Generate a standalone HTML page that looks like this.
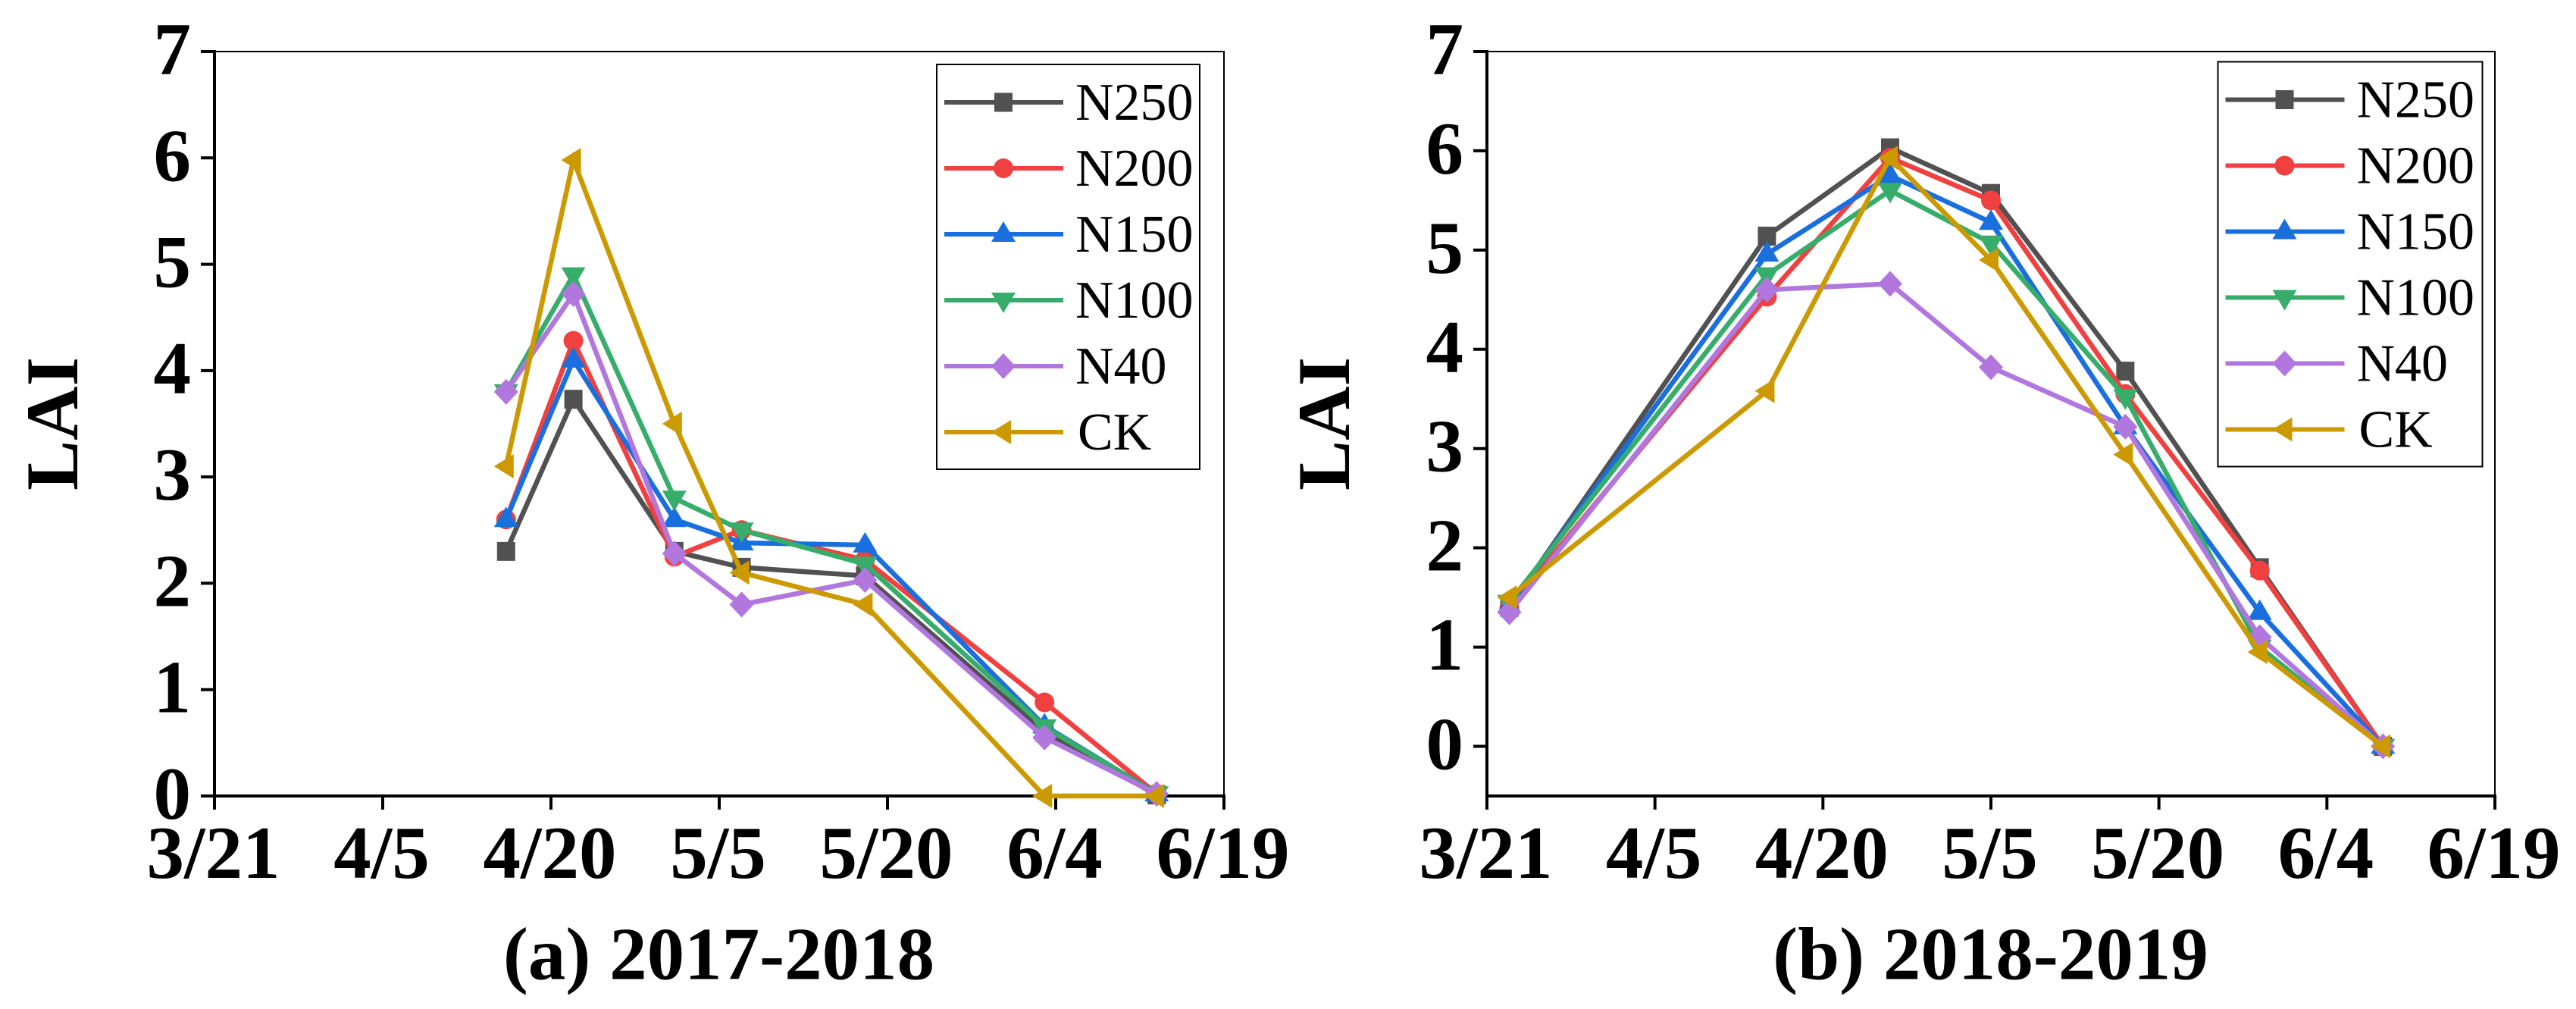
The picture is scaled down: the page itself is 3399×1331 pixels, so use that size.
<!DOCTYPE html>
<html lang="en">
<head>
<meta charset="utf-8">
<title>LAI charts</title>
<style>
html,body{margin:0;padding:0;background:#fff;}
svg{display:block;}
text{font-family:"Liberation Serif","Times New Roman",serif;fill:#000;}
.bold{font-weight:bold;font-size:99px;}
.leg{font-size:70px;}
</style>
</head>
<body>
<svg id="chart" xmlns="http://www.w3.org/2000/svg" width="3399" height="1331" viewBox="0 0 3399 1331">
  <rect x="0" y="0" width="3399" height="1331" fill="#fff"/>
  <g id="panelA"></g>
  <g id="panelB"></g>
  <text class="bold" text-anchor="middle" transform="translate(102,559) rotate(-90)">LAI</text>
  <text class="bold" text-anchor="middle" transform="translate(1780,559) rotate(-90)">LAI</text>
  <text class="bold" x="948.5" y="1291.5" text-anchor="middle">(a) 2017-2018</text>
  <text class="bold" x="2626.5" y="1291.5" text-anchor="middle">(b) 2018-2019</text>
</svg>
<script>
// Shared axis data
const xTickLabels = ['3/21','4/5','4/20','5/5','5/20','6/4','6/19'];
const xTickDays = [0,15,30,45,60,75,90];
const yTicksA = [0,1,2,3,4,5,6,7];
const yTicksB = [0,1,2,3,4,5,6,7];
const seriesNames = ['N250','N200','N150','N100','N40','CK'];

// Panel (a) 2017-2018: days since 3/21 and LAI values
const daysA = [26,32,41,47,58,74,84];
const n250A = [2.30,3.73,2.30,2.15,2.07,0.60,0.01];
const n200A = [2.60,4.28,2.25,2.50,2.22,0.88,0.02];
const n150A = [2.60,4.10,2.60,2.38,2.36,0.66,0.02];
const n100A = [3.80,4.90,2.80,2.50,2.18,0.65,0.02];
const n40A  = [3.80,4.72,2.28,1.80,2.03,0.55,0.02];
const ckA   = [3.10,5.98,3.50,2.10,1.80,0.00,0.00];

// Panel (b) 2018-2019: days since 3/21 and LAI values
const daysB = [2,25,36,45,57,69,80];
const n250B = [1.40,5.14,6.03,5.57,3.78,1.80,0.00];
const n200B = [1.40,4.53,5.93,5.50,3.55,1.77,0.00];
const n150B = [1.42,4.96,5.75,5.28,3.22,1.35,0.00];
const n100B = [1.45,4.75,5.60,5.07,3.52,1.00,0.00];
const n40B  = [1.35,4.60,4.66,3.82,3.22,1.10,0.00];
const ckB   = [1.50,3.58,5.93,4.90,2.94,0.95,0.00];

const seriesColors = ['#515151','#F14040','#1A6FDF','#37AD6B','#B177DE','#CC9900'];
const seriesShapes = ['square','circle','up','down','diamond','left'];
const NS = 'http://www.w3.org/2000/svg';

function make(tag, attrs, parent){
  const el = document.createElementNS(NS, tag);
  for (const k in attrs) el.setAttribute(k, attrs[k]);
  parent.appendChild(el);
  return el;
}

function drawMarker(parent, shape, cx, cy, color, label){
  let el;
  if (shape === 'square') {
    el = make('rect', {x:cx-12, y:cy-12.5, width:24, height:25, fill:color}, parent);
  } else if (shape === 'circle') {
    el = make('circle', {cx:cx, cy:cy, r:13, fill:color}, parent);
  } else {
    let pts;
    if (shape === 'up') pts = [[cx,cy-17],[cx+16,cy+10],[cx-16,cy+10]];
    if (shape === 'down') pts = [[cx,cy+17],[cx+16,cy-10],[cx-16,cy-10]];
    if (shape === 'diamond') pts = [[cx,cy-17],[cx+16,cy],[cx,cy+17],[cx-16,cy]];
    if (shape === 'left') pts = [[cx-16,cy],[cx+10,cy-16],[cx+10,cy+16]];
    el = make('polygon', {points:pts.map(p=>p.join(',')).join(' '), fill:color}, parent);
  }
  
  
  return el;
}

function drawPanel(group, box, yMin, yMax, yTicks, days, seriesList, legend){
  const xScale = d => box.left + (d - xTickDays[0]) / (xTickDays[xTickDays.length-1] - xTickDays[0]) * (box.right - box.left);
  const yScale = v => box.bottom - (v - yMin) / (yMax - yMin) * (box.bottom - box.top);

  // thin top / right frame
  const frame = make('path', {d:`M${box.left} ${box.top}H${box.right}V${box.bottom}`, fill:'none', stroke:'#000', 'stroke-width':2}, group);
  
  

  // axes
  const xAxis = make('line', {x1:box.left-2, x2:box.right+2, y1:box.bottom, y2:box.bottom, stroke:'#000', 'stroke-width':4}, group);
  
  
  const yAxis = make('line', {x1:box.left, x2:box.left, y1:box.top-2, y2:box.bottom+2, stroke:'#000', 'stroke-width':4}, group);
  
  

  xTickDays.forEach((d,i)=>{
    const x = xScale(d);
    const t = make('line', {x1:x, x2:x, y1:box.bottom, y2:box.bottom+18, stroke:'#000', 'stroke-width':4}, group);
    
    
    const l = make('text', {x:x-1.5, y:1158, 'text-anchor':'middle', class:'bold'}, group);
    
    
    l.textContent = xTickLabels[i];
  });

  yTicks.forEach(v=>{
    const y = yScale(v);
    const t = make('line', {x1:box.left-18, x2:box.left, y1:y, y2:y, stroke:'#000', 'stroke-width':4}, group);
    
    
    const l = make('text', {x:box.left-31, y:y+30, 'text-anchor':'end', class:'bold'}, group);
    
    
    l.textContent = String(v);
  });

  // series
  seriesList.forEach((vals,s)=>{
    const g = make('g', {}, group);
    
    
    const pts = vals.map((v,i)=>[xScale(days[i]), yScale(v)]);
    const line = make('polyline', {points:pts.map(p=>p.join(',')).join(' '), fill:'none', stroke:seriesColors[s], 'stroke-width':6.5, 'stroke-linejoin':'miter'}, g);
    
    
    pts.forEach(p=>drawMarker(g, seriesShapes[s], p[0], p[1], seriesColors[s], 'point-' + seriesNames[s].toLowerCase()));
  });

  // legend
  const lg = make('g', {}, group);
  
  
  const lb = make('rect', {x:legend.x, y:legend.y, width:legend.w, height:legend.h, fill:'#fff', stroke:'#000', 'stroke-width':2}, lg);
  
  
  seriesNames.forEach((name,s)=>{
    const ry = legend.y + 50 + s * 87;
    const e = make('g', {}, lg);
    
    
    const sw = make('line', {x1:legend.x+10, x2:legend.x+167, y1:ry, y2:ry, stroke:seriesColors[s], 'stroke-width':6}, e);
    
    
    drawMarker(e, seriesShapes[s], legend.x+88, ry, seriesColors[s], 'legend-marker');
    const tx = make('text', {x:legend.x+(name==='CK'?186:183), y:ry+23, class:'leg'}, e);
    
    
    tx.textContent = name;
  });
}

drawPanel(document.getElementById('panelA'), {left:283, right:1615, top:68, bottom:1050}, 0, 7, yTicksA, daysA,
  [n250A,n200A,n150A,n100A,n40A,ckA], {x:1236, y:85, w:347, h:534});
drawPanel(document.getElementById('panelB'), {left:1962, right:3292, top:68, bottom:1050}, -0.5, 7, yTicksB, daysB,
  [n250B,n200B,n150B,n100B,n40B,ckB], {x:2926.5, y:81.5, w:349, h:534});
</script>
</body>
</html>
